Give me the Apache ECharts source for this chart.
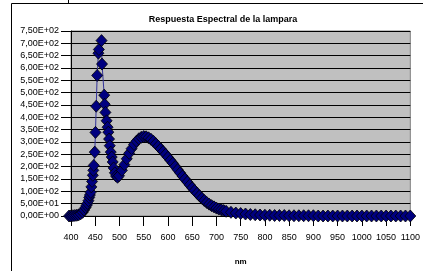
<!DOCTYPE html>
<html>
<head>
<meta charset="utf-8">
<script src="https://cdn.jsdelivr.net/npm/echarts@6/dist/echarts.min.js"></script>
<style>
  html, body { margin: 0; padding: 0; background: #fff; }
  #chart { width: 423px; height: 271px; }
</style>
</head>
<body>
<div id="chart"></div>
<script>
// spectral response of the lamp
const wavelengths = [
  396, 400, 404, 408, 412, 416, 420, 424, 427, 430, 432, 434, 436, 437.5, 439,
  440.5, 442, 443.5, 445, 446, 447, 449, 450.5, 452, 454, 456.5, 457.5, 463, 464,
  468.5, 469.5, 471, 473.5, 475.5, 477, 478.5, 480, 482, 484, 486, 488, 490.5,
  493, 496, 499, 505, 510, 515, 520, 525, 530, 535, 540, 545, 550, 555, 560,
  565, 570, 575, 580, 585, 590, 595, 600, 605, 610, 615, 620, 625, 630, 635,
  640, 645, 650, 655, 660, 665, 670, 675, 680, 685, 690, 695, 700, 705, 710,
  715, 720, 730, 740, 750, 760, 770, 780, 790, 800, 810, 820, 830, 840, 850,
  860, 870, 880, 890, 900, 910, 920, 930, 940, 950, 960, 970, 980, 990, 1000,
  1010, 1020, 1030, 1040, 1050, 1060, 1070, 1080, 1090, 1100
];
const intensity = [
  0, 0, 1, 2, 3, 5, 9, 15, 24, 34, 43, 51, 62, 75, 85,
  96, 118, 140, 165, 185, 205, 259, 339, 445, 570, 660, 675, 711, 616,
  490, 453, 420, 386, 360, 340, 312, 285, 259, 239, 219, 195, 175,
  162, 157, 163, 185, 208, 232, 254, 273, 290, 303, 313, 319, 322, 321, 317,
  311, 303, 293, 283, 272, 261, 250, 238, 226, 214, 201, 188, 175, 162, 150,
  138, 126, 114, 103, 92, 82, 72, 63, 55, 48, 42, 37, 32, 28, 25,
  22, 19, 15, 12, 10, 8, 6, 5, 4, 3, 3, 2, 2, 2, 1,
  1, 1, 1, 1, 1, 0, 0, 0, 0, 0, 0, 0, 0, 0, 0,
  0, 0, 0, 0, 0, 0, 0, 0, 0, 0
];
const xTicks = { min: 400, max: 1100, step: 50 };
const yTicks = { min: 0, max: 750, step: 50 };

function sciLabel(v) {
  const [m, e] = Number(v).toExponential(2).split("e");
  const sign = e[0] === "-" ? "-" : "+";
  const digits = e.replace(/[+-]/, "").padStart(2, "0");
  return m.replace(".", ",") + "E" + sign + digits;
}

const chart = echarts.init(document.getElementById("chart"), null, { renderer: "canvas" });
const font = "Liberation Sans, Arial, sans-serif";

chart.setOption({
  animation: false,
  backgroundColor: "#ffffff",
  title: {
    text: "Respuesta Espectral de la lampara",
    left: 218,
    top: 10,
    textAlign: "center",
    textStyle: { fontFamily: font, fontSize: 9, fontWeight: "bold", color: "#000" },
  },
  graphic: [
    { type: "line", shape: { x1: 11.5, y1: 3.5, x2: 11.5, y2: 271 }, style: { stroke: "#000", lineWidth: 1 } },
    { type: "line", shape: { x1: 11.5, y1: 3.5, x2: 423, y2: 3.5 }, style: { stroke: "#000", lineWidth: 1 } },
    { type: "line", shape: { x1: 68.5, y1: 0, x2: 68.5, y2: 3.5 }, style: { stroke: "#000", lineWidth: 1 } },
  ],
  grid: {
    left: 71,
    right: 6,
    top: 31,
    bottom: 53,
    show: true,
    backgroundColor: "#c0c0c0",
    borderColor: "#808080",
    borderWidth: 1,
  },
  xAxis: {
    type: "value",
    min: xTicks.min,
    max: xTicks.max,
    interval: xTicks.step,
    name: "nm",
    nameLocation: "middle",
    nameGap: 42,
    nameTextStyle: { fontFamily: font, fontSize: 8, fontWeight: "bold", color: "#000" },
    axisLine: { show: true, onZero: false, lineStyle: { color: "#000", width: 1 } },
    axisTick: { show: true, length: 10, lineStyle: { color: "#000" } },
    axisLabel: {
      fontFamily: font, fontSize: 9, color: "#000", margin: 17,
      showMaxLabel: true, formatter: (v) => String(v),
    },
    splitLine: { show: false },
  },
  yAxis: {
    type: "value",
    min: yTicks.min,
    max: yTicks.max,
    interval: yTicks.step,
    axisLine: { show: true, lineStyle: { color: "#000", width: 1 } },
    axisTick: { show: true, length: 10, lineStyle: { color: "#000" } },
    axisLabel: { fontFamily: font, fontSize: 9, color: "#000", margin: 12, formatter: sciLabel },
    splitLine: { show: true, lineStyle: { color: "#000", width: 1 } },
  },
  series: [
    {
      type: "line",
      data: wavelengths.map((w, i) => [w, intensity[i]]),
      symbol: "diamond",
      symbolSize: [11, 12],
      showAllSymbol: true,
      lineStyle: { color: "#333399", width: 1 },
      itemStyle: { color: "#000080", borderColor: "#000", borderWidth: 0.8 },
      clip: false,
    },
  ],
});
</script>
</body>
</html>
